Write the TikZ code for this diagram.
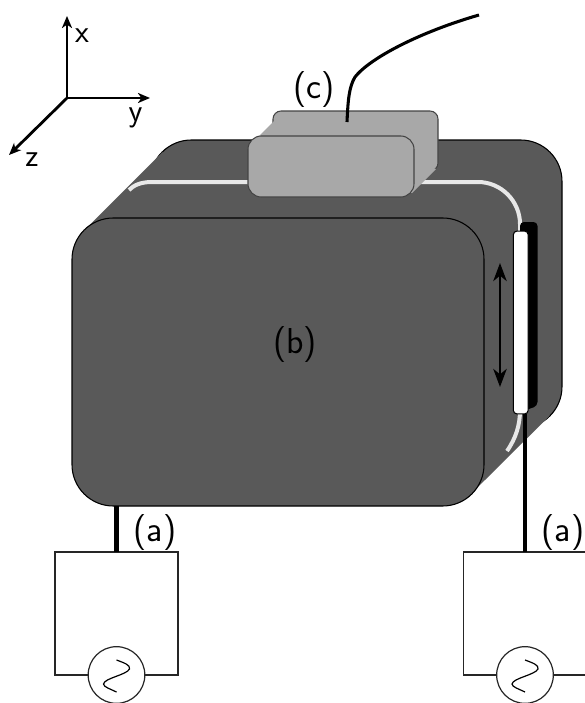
\documentclass[tikz,border=0pt]{standalone}
\usepackage{fontspec}
\usepackage{tikz}
\usetikzlibrary{arrows.meta}
\usepackage{xcolor}
\definecolor{bodygray}{HTML}{595959}
\definecolor{headgray}{HTML}{A8A8A8}
\definecolor{edgegray}{HTML}{444444}
\definecolor{coilwhite}{HTML}{E8E8E8}
\setmainfont{Latin Modern Sans}
\tikzset{
  biglabel/.style={font=\fontsize{27}{27}\selectfont, inner sep=0pt},
  axlabel/.style={font=\fontsize{24}{24}\selectfont, inner sep=0pt},
  axisline/.style={line width=2.1pt, -{Stealth[length=9pt, width=7.5pt, inset=2.5pt]}},
  wire/.style={line width=3.2pt},
  circuit/.style={line width=0.9pt, draw=black!85},
  bodyface/.style={fill=bodygray, draw=black, line width=0.8pt, rounded corners=31pt},
  headface/.style={fill=headgray, draw=edgegray, line width=0.8pt},
  moveline/.style={line width=2pt, {Stealth[length=13.5pt, width=10pt, inset=4pt]}-{Stealth[length=13.5pt, width=10pt, inset=4pt]}}
}
\begin{document}
\begin{tikzpicture}[x=0.75pt, y=-0.75pt]
    \useasboundingbox (0,0) rectangle (585,703);
    % axes
    \coordinate (axO) at (67,98);
    \coordinate (axX) at (67,16);
    \coordinate (axY) at (150,98);
    \coordinate (axZ) at (9,155);
    \foreach \tip in {axX, axY, axZ}
      \draw[axisline] (axO) -- (\tip);
    \node[axlabel] (lblx) at (82,36) {x};
    \node[axlabel] (lbly) at (135.5,118) {y};
    \node[axlabel] (lblz) at (32,160) {z};
    % magnet body
    \draw[bodyface] (150,140) rectangle (562,428);
    \fill[bodygray] (84.3,230.3) -- (162.3,152.3) -- (549.7,415.7) -- (471.2,493.7) -- cycle;
    \draw[coilwhite, line width=3pt] (129,190) .. controls (134,185) and (141,182) .. (152,182)
      -- (478,182) .. controls (501,182) and (520,201) .. (520,224)
      -- (520,410) .. controls (520,425) and (516,438) .. (507,451);
    \fill[black, rounded corners=3pt] (520,222) -- (537.5,222) -- (537.5,406) -- (520,412) -- cycle;
    \node[draw=black, fill=white, line width=0.8pt, rounded corners=2.5pt, minimum width=11pt,
      minimum height=137pt, inner sep=0pt] (strip) at (520.75,322.5) {};
    \draw[bodyface] (72,218) rectangle (484,506);
    \coordinate (wireL) at (116.5,506);
    \coordinate (wireR) at (525,414);
    \coordinate (moveA) at (500,263);
    \coordinate (moveB) at (500,387);
    \draw[moveline] (moveA) -- (moveB);
    \node[biglabel] (lblb) at (295,345) {(b)};
    % sensor head
    \draw[headface, rounded corners=6pt] (273,111) rectangle (438,171);
    \fill[headgray] (254,141) -- (278,117) -- (436,169) -- (412,193) -- cycle;
    \draw[headface, rounded corners=10pt] (248,136) rectangle (414,197);
    \coordinate (fibA) at (347,122);
    \coordinate (fibB) at (479,15);
    \draw[line width=2.3pt] (fibA) .. controls (348,100) and (349,87) .. (355,77)
      .. controls (370,58) and (420,32) .. (fibB);
    \node[biglabel] (lblc) at (314,90) {(c)};
    % drive circuits
    \foreach \nm/\cx/\top in {L/116.5/wireL, R/525/wireR} {
      \node[circle, circuit, fill=white, minimum size=42.5pt, inner sep=0pt] (src\nm) at (\cx,675) {};
      \coordinate (box\nm) at (\cx,552);
      \draw[circuit] (src\nm.west) -| (\cx-61.5,552) -- (\cx+61.5,552) |- (src\nm.east);
      \draw[wire] (\top) -- (box\nm);
      \draw[line width=0.9pt] (\cx,660) .. controls (\cx+8,663) and (\cx+14,665) .. (\cx+13,669)
        .. controls (\cx+10,675) and (\cx-12,678) .. (\cx-13,684)
        .. controls (\cx-13,687) and (\cx-6,689) .. (\cx,692);
    }
    \node[biglabel] (lblaL) at (155,533) {(a)};
    \node[biglabel] (lblaR) at (563,533) {(a)};
\end{tikzpicture}
\end{document}
